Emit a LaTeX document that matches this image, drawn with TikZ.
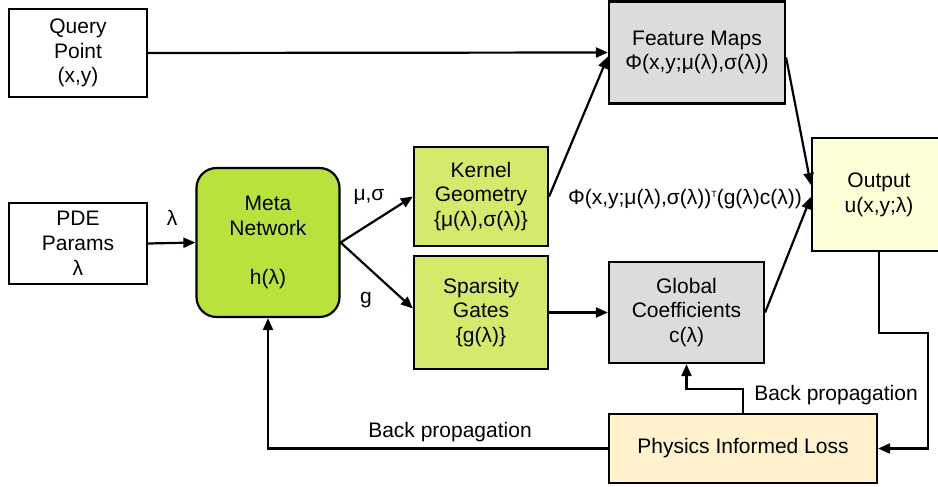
\documentclass[tikz,border=0pt]{standalone}
\usepackage{fontspec}
\setmainfont{Liberation Sans}
\usetikzlibrary{arrows.meta}
\definecolor{metagreen}{RGB}{184,227,61}
\definecolor{subgreen}{RGB}{212,234,107}
\definecolor{boxgray}{RGB}{220,220,220}
\definecolor{outyellow}{RGB}{255,255,215}
\definecolor{losscream}{RGB}{255,242,204}
\tikzset{
  block/.style={draw,line width=2.2pt,align=center,inner sep=2pt,font=\fontsize{21}{24.8}\selectfont},
  metablock/.style={block,fill=metagreen,rounded corners=20pt},
  subblock/.style={block,fill=subgreen},
  grayblock/.style={block,fill=boxgray},
  link/.style={line width=2.2pt,-{Triangle[length=12pt,width=10pt]}},
  tag/.style={font=\fontsize{21}{24.8}\selectfont}
}

\begin{document}
\begin{tikzpicture}[x=1pt,y=-1pt]

    % -- Canvas (pixel-like units, y pointing down) --
    \useasboundingbox (0,0) rectangle (938,487);

    % Column positions
    \def\xin{78}      % input boxes
    \def\xmeta{268}   % meta network
    \def\xsub{481}    % kernel / gates
    \def\xout{879}    % output column

    % -- Inputs --
    \node[block,minimum width=138pt,minimum height=88pt] (query) at (\xin,53) {Query\\Point\\(x,y)};
    \node[block,minimum width=138pt,minimum height=81pt] (params) at (\xin,243.5) {PDE\\Params\\λ};

    % -- Meta network and its two heads --
    \node[metablock,minimum width=143pt,minimum height=149pt] (meta) at (\xmeta,242.5) {Meta\\Network\\[24.8pt]h(λ)};
    \node[subblock,minimum width=134pt,minimum height=99pt] (kernel) at (\xsub,196.5) {Kernel\\Geometry\\\{μ(λ),σ(λ)\}};
    \node[subblock,minimum width=134pt,minimum height=113pt] (gates) at (\xsub,312.5) {Sparsity\\Gates\\\{g(λ)\}};

    % -- Features and coefficients --
    \node[grayblock,minimum width=176pt,minimum height=102pt] (features) at (697,52.5) {Feature Maps\\Φ(x,y;μ(λ),σ(λ))};
    \node[grayblock,minimum width=155pt,minimum height=101pt] (coeffs) at (686.5,312.5) {Global\\Coefficients\\c(λ)};

    % -- Output and loss --
    \node[block,fill=outyellow,minimum width=134pt,minimum height=113pt] (output) at (\xout,194.5) {Output\\u(x,y;λ)};
    \node[block,fill=losscream,minimum width=268pt,minimum height=69pt] (loss) at (743,448.5) {Physics Informed Loss};

    % -- Forward arrows --
    \draw[link] (query.east) -- (features.west);
    \draw[link] (params.east) -- (meta.west);
    \draw[link] (meta.east) -- (kernel.west);
    \draw[link] (meta.east) -- ([yshift=4pt]gates.west);
    \draw[link] (kernel.east) -- ([yshift=-4pt]features.west);
    \draw[link] (gates.east) -- (coeffs.west);
    \draw[link] ([yshift=-5pt]features.east) -- ([yshift=9.5pt]output.west);
    \draw[link] (coeffs.east) -- ([yshift=-2.5pt]output.west);

    % -- Feedback loops --
    \coordinate (outturn) at (928,333);
    \coordinate (lossturn) at (700,389);
    \draw[link] (output.south) |- (outturn) |- (loss.east);
    \draw[link] (loss.north) |- (lossturn) -| (coeffs.south);
    \draw[link] (loss.west) -| (meta.south);

    % -- Edge labels --
    \node[tag] (lamtag) at (172,218) {λ};
    \node[tag] (mstag) at (369,197) {μ,σ};
    \node[tag] (gtag) at (366,300) {g};
    \node[tag] (formula) at (685,199) {Φ(x,y;μ(λ),σ(λ))\raisebox{7pt}{\fontsize{9}{9}\selectfont T}(g(λ)c(λ))};
    \node[tag] (backleft) at (450,432) {Back propagation};
    \node[tag] (backright) at (836,395) {Back propagation};

\end{tikzpicture}
\end{document}
